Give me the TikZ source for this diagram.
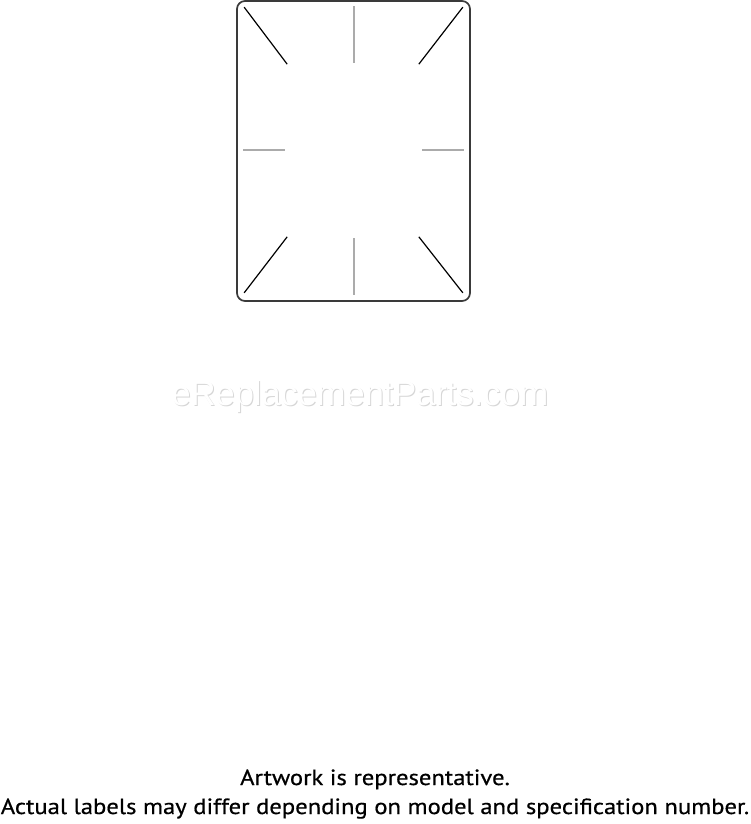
\documentclass[tikz,border=0pt]{standalone}
\usepackage{fontspec}
\setmainfont{PT Sans}[FakeStretch=1.12, FakeBold=0.6]
\newfontfamily\markfont{Liberation Sans}
\usepackage{tikz}
\usetikzlibrary{positioning}
\usetikzlibrary{calc}

\definecolor{rimgray}{HTML}{3A3A3A}
\definecolor{guidegray}{HTML}{ABABAB}
\definecolor{wmgray}{HTML}{D6D6D6}

\tikzset{
	rim/.style = {draw=rimgray, line width=1.7pt, rounded corners=8pt},
	diag/.style = {draw=black, line width=1.2pt},
	guide/.style = {draw=guidegray, line width=2pt},
	note/.style = {font=\fontsize{22}{29}\selectfont, inner sep=0pt, anchor=base},
	wm/.style = {font=\markfont\fontsize{34.4}{34}\selectfont, inner sep=0pt}
}

\begin{document}
\begin{tikzpicture}[x=1pt, y=-1pt]
\useasboundingbox (0,0) rectangle (750,824);

\node[rim, minimum width=233pt, minimum height=300pt, inner sep=0pt] (plate) at (353.5,151) {};

% corner marks
\draw[diag] ($(plate.north west)+(8,7)$) -- ($(plate.north west)+(51,64)$);
\draw[diag] ($(plate.north east)+(-8,7)$) -- ($(plate.north east)+(-52,64)$);
\draw[diag] ($(plate.south west)+(8,-9)$) -- ($(plate.south west)+(51,-65)$);
\draw[diag] ($(plate.south east)+(-8,-9)$) -- ($(plate.south east)+(-52,-65)$);

% centre marks
\draw[guide] ($(plate.north)+(0,6)$) -- ($(plate.north)+(0,63)$);
\draw[guide] ($(plate.south)+(0,-7)$) -- ($(plate.south)+(0,-64)$);
\draw[guide] ($(plate.west)+(7,-1)$) -- ($(plate.west)+(49,-1)$);
\draw[guide] ($(plate.east)+(-7,-1)$) -- ($(plate.east)+(-49,-1)$);

% watermark
\node[wm, text=wmgray] (shadow) at (361,398) {eReplacementParts.com};
\node[wm, text=white] (mark) at (360,397) {eReplacementParts.com};

\node[note] (line1) at (375,785) {Artwork is representative.};
\node[note] (line2) at (375,814) {Actual labels may differ depending on model and specification number.};
\end{tikzpicture}
\end{document}
